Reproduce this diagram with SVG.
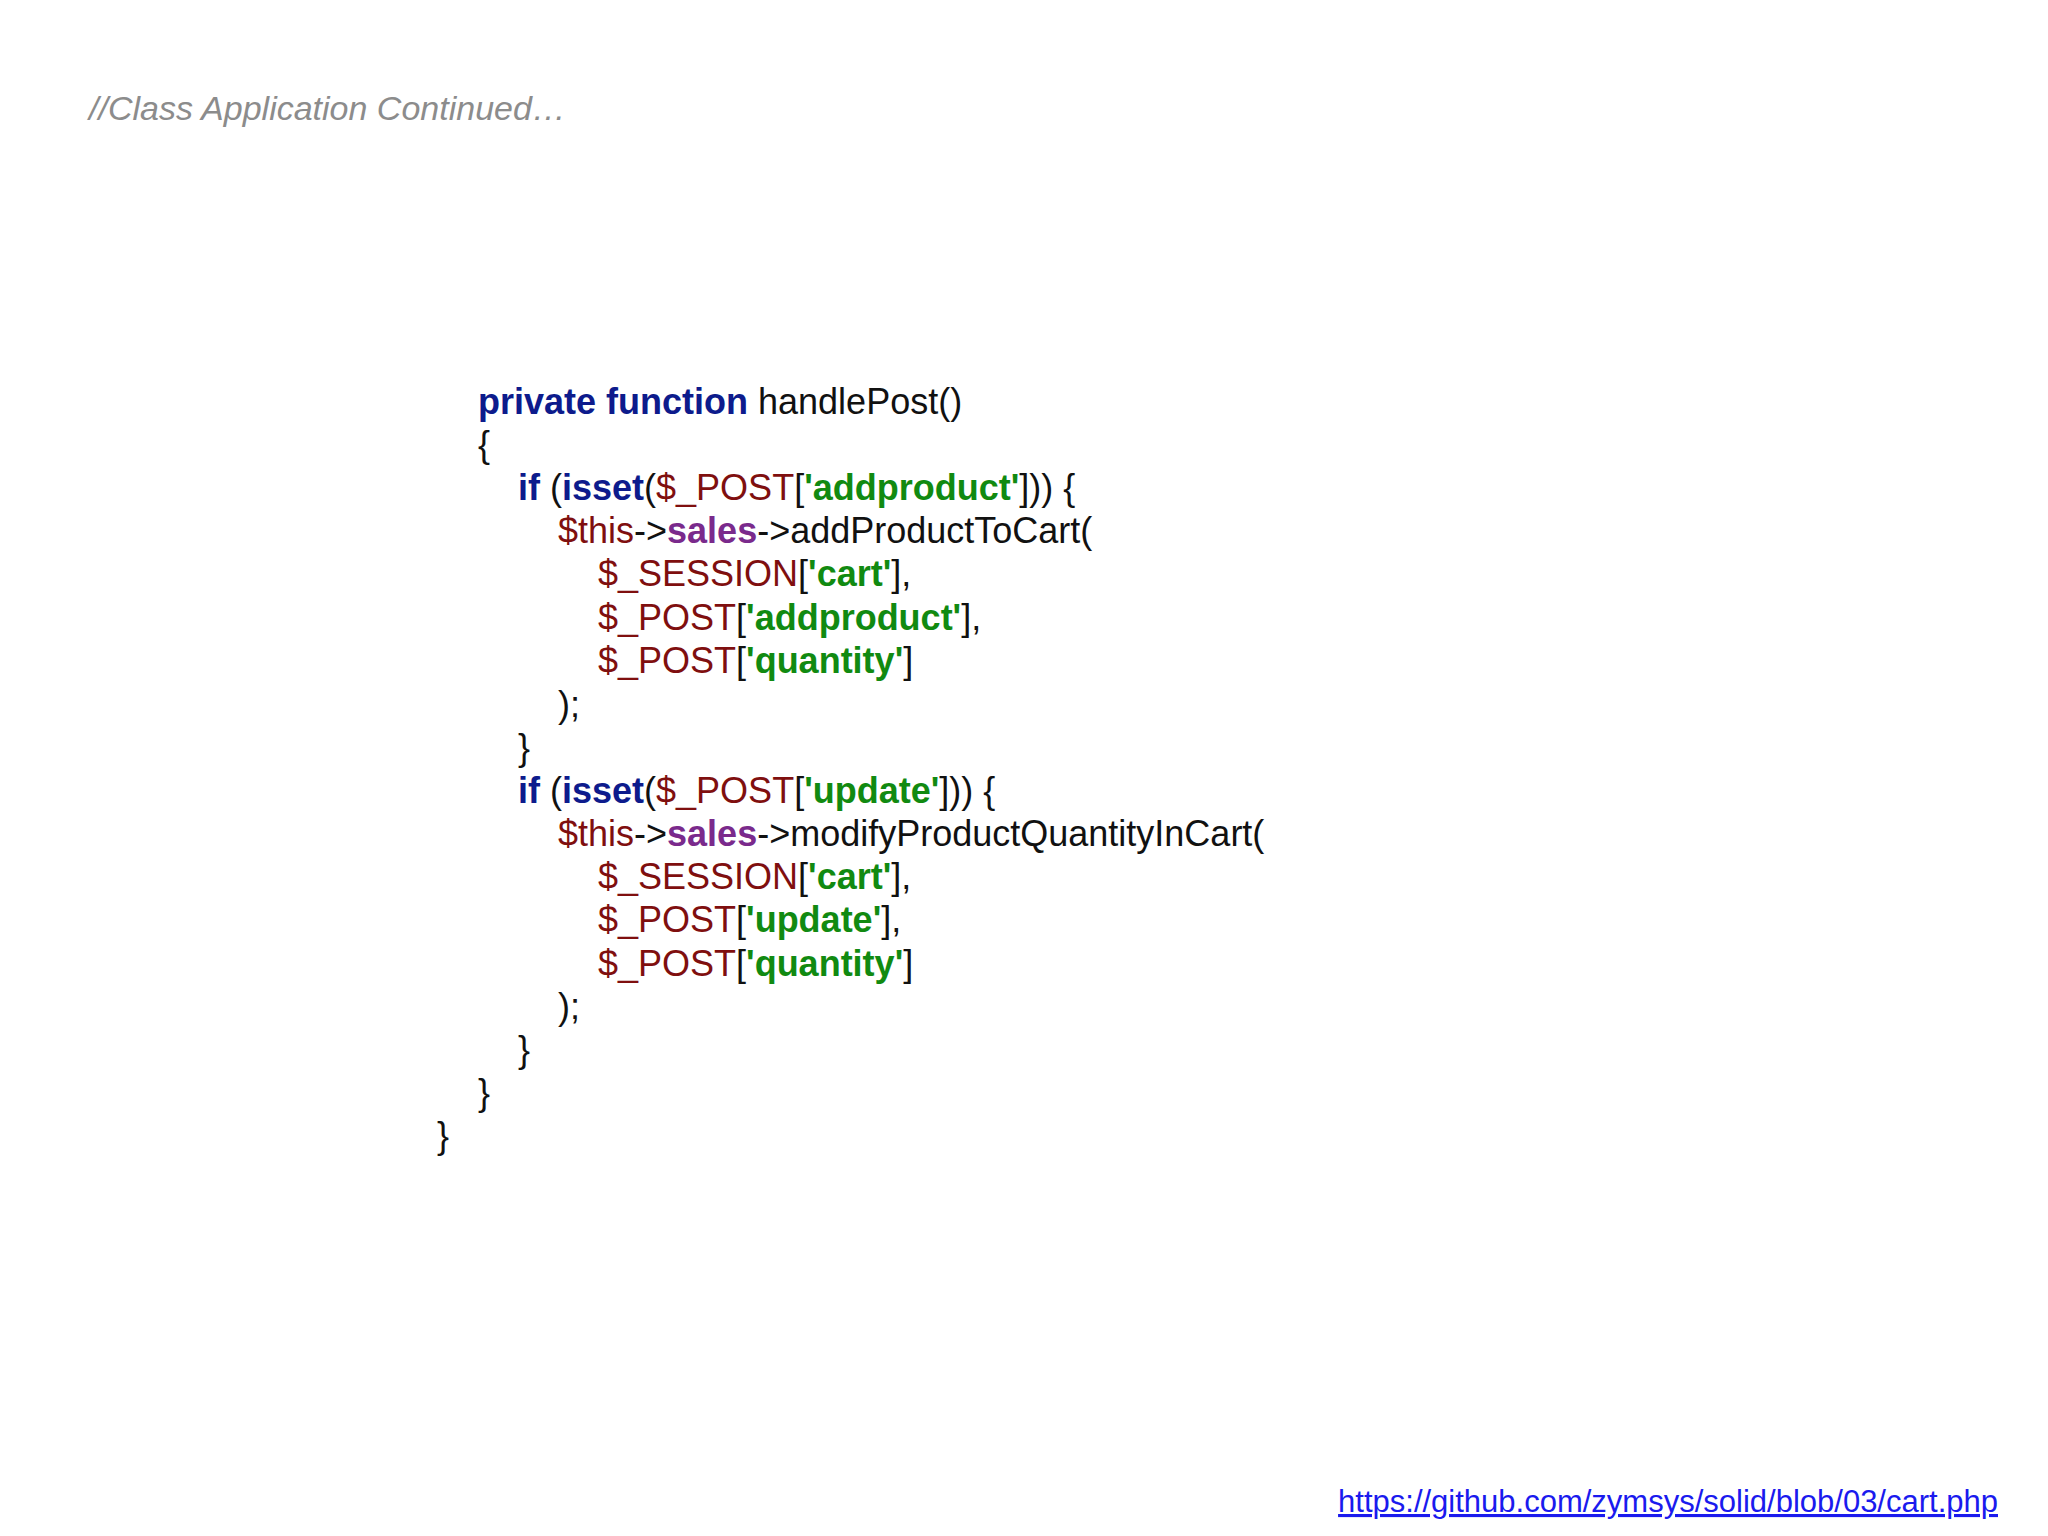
<svg xmlns="http://www.w3.org/2000/svg" width="2048" height="1536" viewBox="0 0 2048 1536">
<style>
text{font-family:"Liberation Sans",Arial,sans-serif;}
.c{font-size:36px;fill:#111;}
.k{fill:#0d1b8c;font-weight:bold;}
.v{fill:#7f0f0f;}
.s{fill:#118a11;font-weight:bold;}
.p{fill:#7a2a8c;font-weight:bold;}
</style>
<rect width="2048" height="1536" fill="#ffffff"/>
<text x="89" y="120" font-size="34" font-style="italic" fill="#8c8c8c">//Class Application Continued…</text>
<g id="code" class="c">
<text x="478" y="414" class="c"><tspan class="k">private function</tspan> handlePost()</text>
<text x="478" y="457" class="c">{</text>
<text x="518" y="500" class="c"><tspan class="k">if</tspan> (<tspan class="k">isset</tspan>(<tspan class="v">$_POST</tspan>[<tspan class="s">'addproduct'</tspan>])) {</text>
<text x="558" y="543" class="c"><tspan class="v">$this</tspan>-&gt;<tspan class="p">sales</tspan>-&gt;addProductToCart(</text>
<text x="598" y="586" class="c"><tspan class="v">$_SESSION</tspan>[<tspan class="s">'cart'</tspan>],</text>
<text x="598" y="630" class="c"><tspan class="v">$_POST</tspan>[<tspan class="s">'addproduct'</tspan>],</text>
<text x="598" y="673" class="c"><tspan class="v">$_POST</tspan>[<tspan class="s">'quantity'</tspan>]</text>
<text x="558" y="717" class="c">);</text>
<text x="518" y="760" class="c">}</text>
<text x="518" y="803" class="c"><tspan class="k">if</tspan> (<tspan class="k">isset</tspan>(<tspan class="v">$_POST</tspan>[<tspan class="s">'update'</tspan>])) {</text>
<text x="558" y="846" class="c"><tspan class="v">$this</tspan>-&gt;<tspan class="p">sales</tspan>-&gt;modifyProductQuantityInCart(</text>
<text x="598" y="889" class="c"><tspan class="v">$_SESSION</tspan>[<tspan class="s">'cart'</tspan>],</text>
<text x="598" y="932" class="c"><tspan class="v">$_POST</tspan>[<tspan class="s">'update'</tspan>],</text>
<text x="598" y="976" class="c"><tspan class="v">$_POST</tspan>[<tspan class="s">'quantity'</tspan>]</text>
<text x="558" y="1019" class="c">);</text>
<text x="518" y="1062" class="c">}</text>
<text x="478" y="1105" class="c">}</text>
<text x="437" y="1148" class="c">}</text>
</g>
<text x="1998" y="1512" font-size="31" fill="#1a1aee" text-anchor="end" text-decoration="underline">https://github.com/zymsys/solid/blob/03/cart.php</text>
</svg>
